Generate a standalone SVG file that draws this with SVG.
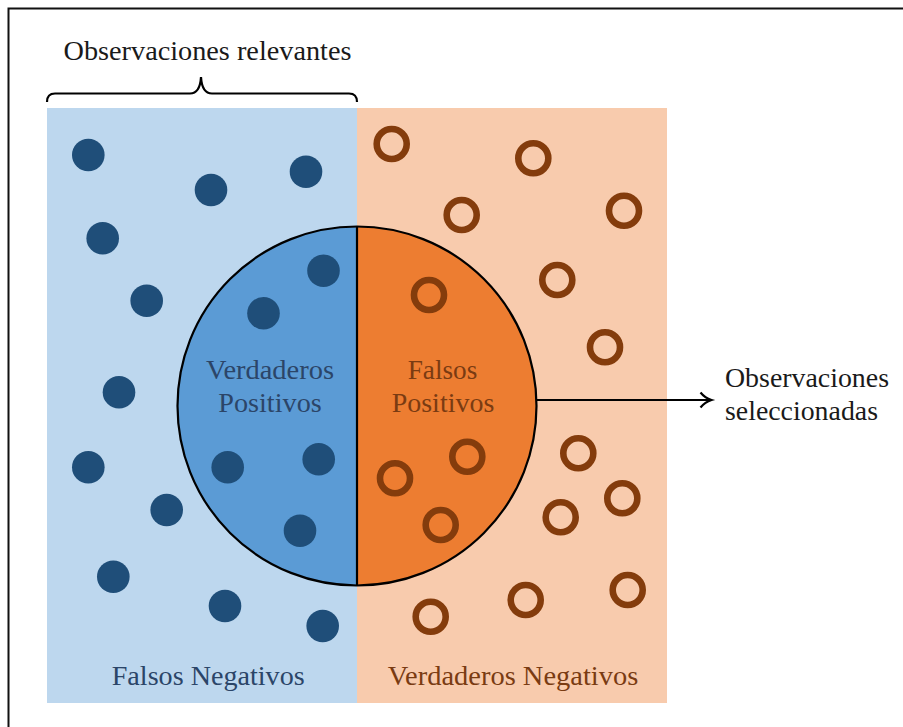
<svg xmlns="http://www.w3.org/2000/svg" width="903" height="727" viewBox="0 0 903 727">
<style>
text{font-family:"Liberation Serif","Times New Roman",serif;font-size:26.5px}
.blk{fill:#1a1a1a}
.bt{fill:#2b4568}
.ot{fill:#7a3b12}
.dot{fill:#1f4e79}
.ring{fill:none;stroke:#843c0c;stroke-width:6.6}
.ln{fill:none;stroke:#000;stroke-width:2.2}
</style>
<rect x="0" y="0" width="903" height="727" fill="#fff"/>
<rect id="frame" x="8.5" y="8.5" width="920" height="760" fill="none" stroke="#111" stroke-width="2"/>

<g id="relevantes">
<path class="ln" d="M47,102 Q47,93.5 55,93.5 L190,93.5 Q200,93.5 201,77 Q202,93.5 212,93.5 L349,93.5 Q357,93.5 357,102"/>
<text class="blk" x="63.5" y="60" textLength="288" lengthAdjust="spacingAndGlyphs">Observaciones relevantes</text>
</g>

<g id="falsos-negativos">
<rect x="47" y="108" width="310" height="595" fill="#bdd7ee"/>
<text class="bt" x="111.7" y="685" textLength="193" lengthAdjust="spacingAndGlyphs">Falsos Negativos</text>
</g>

<g id="verdaderos-negativos">
<rect x="357" y="108" width="310" height="595" fill="#f8cbad"/>
<text class="ot" x="387.7" y="685" textLength="250.6" lengthAdjust="spacingAndGlyphs">Verdaderos Negativos</text>
</g>

<g id="seleccionadas">
<path d="M357,226.5 A179.5,179.5 0 0 0 357,585.5 Z" fill="#5b9bd5"/>
<path d="M357,226.5 A179.5,179.5 0 0 1 357,585.5 Z" fill="#ed7d31"/>
<circle class="ln" cx="357" cy="406" r="179.5"/>
<line class="ln" x1="357" y1="226.5" x2="357" y2="585.5"/>
<text class="bt" x="206" y="379.3" textLength="128" lengthAdjust="spacingAndGlyphs">Verdaderos</text>
<text class="bt" x="218.3" y="411.7" textLength="103.4" lengthAdjust="spacingAndGlyphs">Positivos</text>
<text class="ot" x="407.7" y="379.3" textLength="69.6" lengthAdjust="spacingAndGlyphs">Falsos</text>
<text class="ot" x="391.7" y="411.7" textLength="102.6" lengthAdjust="spacingAndGlyphs">Positivos</text>
</g>

<g id="positivos-reales">
<circle class="dot" cx="88.3" cy="155" r="16.3"/>
<circle class="dot" cx="211" cy="190" r="16.3"/>
<circle class="dot" cx="306" cy="171.7" r="16.3"/>
<circle class="dot" cx="102.7" cy="238.3" r="16.3"/>
<circle class="dot" cx="146.7" cy="300.7" r="16.3"/>
<circle class="dot" cx="323.5" cy="270.7" r="16.3"/>
<circle class="dot" cx="263.5" cy="313.3" r="16.3"/>
<circle class="dot" cx="119" cy="392.3" r="16.3"/>
<circle class="dot" cx="88.3" cy="467.3" r="16.3"/>
<circle class="dot" cx="227.7" cy="467.3" r="16.3"/>
<circle class="dot" cx="318.7" cy="459.3" r="16.3"/>
<circle class="dot" cx="166.7" cy="510" r="16.3"/>
<circle class="dot" cx="300" cy="530.7" r="16.3"/>
<circle class="dot" cx="113.3" cy="576.7" r="16.3"/>
<circle class="dot" cx="225" cy="606" r="16.3"/>
<circle class="dot" cx="322.7" cy="626" r="16.3"/>
</g>

<g id="negativos-reales">
<circle class="ring" cx="391.7" cy="144" r="15"/>
<circle class="ring" cx="533.3" cy="158.3" r="15"/>
<circle class="ring" cx="461.7" cy="215" r="15"/>
<circle class="ring" cx="624" cy="210.7" r="15"/>
<circle class="ring" cx="429" cy="295" r="15"/>
<circle class="ring" cx="557.3" cy="280" r="15"/>
<circle class="ring" cx="605" cy="347.3" r="15"/>
<circle class="ring" cx="467.3" cy="456.7" r="15"/>
<circle class="ring" cx="395" cy="478.3" r="15"/>
<circle class="ring" cx="440.7" cy="525" r="15"/>
<circle class="ring" cx="578.3" cy="453.3" r="15"/>
<circle class="ring" cx="622.3" cy="498.3" r="15"/>
<circle class="ring" cx="560.7" cy="517.3" r="15"/>
<circle class="ring" cx="430.7" cy="616.7" r="15"/>
<circle class="ring" cx="525.7" cy="600" r="15"/>
<circle class="ring" cx="627.7" cy="590" r="15"/>
</g>

<g id="connectors">
<line class="ln" x1="536.5" y1="400" x2="711" y2="400"/>
<path class="ln" d="M700.5,392.5 Q705,398 711.5,400 Q705,402 700.5,407.5"/>
</g>

<g id="label-seleccionadas">
<text class="blk" x="725" y="386.7" textLength="164" lengthAdjust="spacingAndGlyphs">Observaciones</text>
<text class="blk" x="725" y="420" textLength="153" lengthAdjust="spacingAndGlyphs">seleccionadas</text>
</g>
</svg>
